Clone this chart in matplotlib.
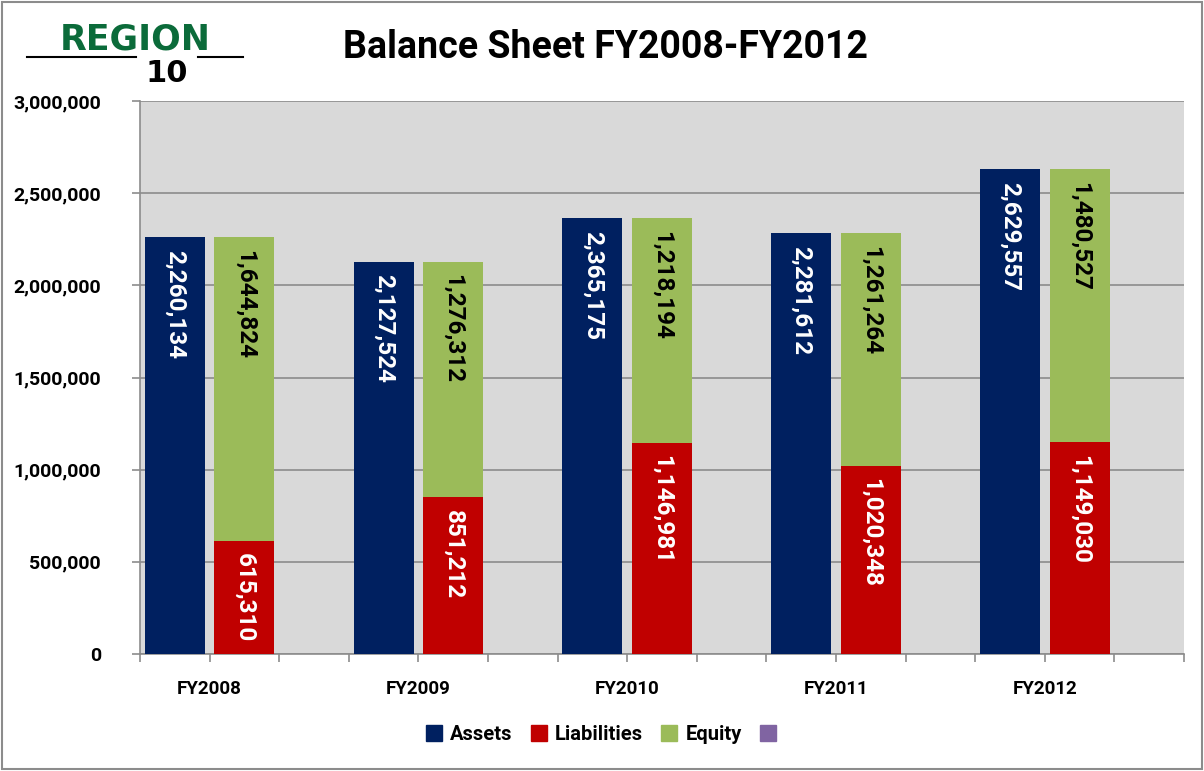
import matplotlib
matplotlib.use("Agg")
import matplotlib.pyplot as plt
from matplotlib.lines import Line2D
from matplotlib.patches import Rectangle
from matplotlib.ticker import FuncFormatter, MultipleLocator

years = ["FY2008", "FY2009", "FY2010", "FY2011", "FY2012"]
assets = [2260134, 2127524, 2365175, 2281612, 2629557]
liabilities = [615310, 851212, 1146981, 1020348, 1149030]
equity = [1644824, 1276312, 1218194, 1261264, 1480527]

C_ASSETS = "#002060"
C_LIAB = "#C00000"
C_EQ = "#9BBB59"
C_EXTRA = "#8064A2"

plt.rcParams["font.family"] = ["Roboto", "DejaVu Sans"]

fig = plt.figure(figsize=(12.04, 7.71), dpi=100)
ax = fig.add_axes([140/1204, 1 - 654/771, 1044/1204, (654-101)/771])
ax.set_facecolor("#D9D9D9")

n = len(years)
x_assets = [3*i + 0.5 for i in range(n)]
x_stack = [3*i + 1.5 for i in range(n)]
w = 0.86

ax.bar(x_assets, assets, width=w, color=C_ASSETS, zorder=3)
ax.bar(x_stack, liabilities, width=w, color=C_LIAB, zorder=3)
ax.bar(x_stack, equity, width=w, bottom=liabilities, color=C_EQ, zorder=3)

lab_fs = 17.5
for xa, a in zip(x_assets, assets):
    ax.annotate(f"{a:,}", (xa, a), xytext=(0, -9), textcoords="offset points",
                rotation=270, ha="center", va="top", color="white",
                fontsize=lab_fs, fontweight="bold", zorder=4)
for xs, l, e in zip(x_stack, liabilities, equity):
    ax.annotate(f"{l:,}", (xs, l), xytext=(0, -9), textcoords="offset points",
                rotation=270, ha="center", va="top", color="white",
                fontsize=lab_fs, fontweight="bold", zorder=4)
    ax.annotate(f"{e:,}", (xs, l + e), xytext=(0, -9), textcoords="offset points",
                rotation=270, ha="center", va="top", color="black",
                fontsize=lab_fs, fontweight="bold", zorder=4)

ax.set_xlim(0, 3*n)
ax.set_ylim(0, 3000000)
ax.yaxis.set_major_locator(MultipleLocator(500000))
ax.yaxis.set_major_formatter(FuncFormatter(lambda v, p: f"{int(v):,}"))
ax.grid(axis="y", color="#8C8C8C", linewidth=1.2, zorder=1)
ax.set_axisbelow(True)

ax.xaxis.remove_overlapping_locs = False
ax.set_xticks(range(0, 3*n + 1))
ax.set_xticklabels([])
ax.set_xticks([3*i + 1 for i in range(n)], minor=True)
ax.set_xticklabels(years, minor=True)
ax.tick_params(axis="x", which="major", length=6, color="#8C8C8C", width=1.2, direction="out")
ax.tick_params(axis="x", which="minor", length=0, pad=19, labelsize=13.5)
ax.tick_params(axis="y", length=6, color="#8C8C8C", width=1.2, labelsize=14, pad=22)
for t in ax.get_xticklabels(minor=True) + ax.get_yticklabels():
    t.set_fontweight("bold")

for s in ["top", "right"]:
    ax.spines[s].set_visible(False)
for s in ["left", "bottom"]:
    ax.spines[s].set_color("#8C8C8C")
    ax.spines[s].set_linewidth(1.2)

# Title
fig.text(605/1204, 1 - 47/771, "Balance Sheet FY2008-FY2012", ha="center", va="center",
         fontsize=27, fontweight="bold", color="black")

# Logo text
fig.text(135/1204, 1 - 49/771, "REGION", ha="center", va="baseline", fontsize=25,
         fontweight="heavy", color="#0B6B3A", family=["DejaVu Sans"])
fig.add_artist(Line2D([27/1204, 136/1204], [1 - 57/771, 1 - 57/771], color="black", lw=1.5))
fig.add_artist(Line2D([198/1204, 243/1204], [1 - 57/771, 1 - 57/771], color="black", lw=1.5))
fig.text(167/1204, 1 - 82/771, "10", ha="center", va="baseline", fontsize=22,
         fontweight="heavy", color="black", family=["DejaVu Sans"])

# Legend
handles = [
    Line2D([], [], marker="s", linestyle="none", markersize=11, color=C_ASSETS),
    Line2D([], [], marker="s", linestyle="none", markersize=11, color=C_LIAB),
    Line2D([], [], marker="s", linestyle="none", markersize=11, color=C_EQ),
    Line2D([], [], marker="s", linestyle="none", markersize=11, color=C_EXTRA),
]
labels = ["Assets", "Liabilities", "Equity", ""]
leg = fig.legend(handles, labels, loc="center", bbox_to_anchor=(604/1204, 1 - 735/771),
                 ncol=4, frameon=False, prop={"size": 14.5, "weight": "bold"},
                 handletextpad=0.3, columnspacing=0.8, handlelength=1.0)

# Outer border
fig.add_artist(Rectangle((2/1204, 2/771), 1 - 4/1204, 1 - 4/771, transform=fig.transFigure,
                         fill=False, edgecolor="#8C8C8C", linewidth=1.5))

fig.savefig("out.png", dpi=100)
